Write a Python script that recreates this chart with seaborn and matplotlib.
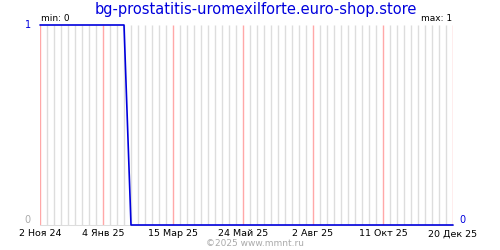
import matplotlib
matplotlib.use("Agg")
import matplotlib.pyplot as plt
import seaborn as sns
import pandas as pd
import numpy as np

sns.set_style("white")
plt.rcParams['font.family'] = ['DejaVu Sans']

title = "bg-prostatitis-uromexilforte.euro-shop.store"
dates = pd.date_range("2024-11-02", "2025-12-20", freq="7D")
values = [1] * 13 + [0] * (len(dates) - 13)
tick_dates = pd.to_datetime(["2024-11-02", "2025-01-04", "2025-03-15", "2025-05-24",
                             "2025-08-02", "2025-10-11", "2025-12-20"])
tick_labels = ["2 Ноя 24", "4 Янв 25", "15 Мар 25", "24 Май 25", "2 Авг 25", "11 Окт 25", "20 Дек 25"]

df = pd.DataFrame({"date": dates, "value": values})

fig = plt.figure(figsize=(5, 2.5), dpi=100)
ax = fig.add_axes([0.08, 0.1, 0.826, 0.8])

major_set = set(pd.Timestamp(t).normalize() for t in tick_dates)
minor_dates = [d for d in dates if pd.Timestamp(d).normalize() not in major_set]
ax.vlines(minor_dates, 0, 1, colors="#dddddd", linewidth=1.0, zorder=1)
ax.vlines(list(tick_dates), 0, 1, colors="#ffa8a8", linewidth=1.0, zorder=1.5)

sns.lineplot(data=df, x="date", y="value", ax=ax, color="#0000dd", linewidth=1.2, zorder=3,
             clip_on=False)

ax.set_xticks(tick_dates)
ax.set_xticklabels(tick_labels, fontsize=6.8, color="black")
ax.tick_params(which="both", length=0, pad=3)
ax.grid(False)

ax.set_xlim(dates[0], dates[-1])
ax.set_ylim(0, 1)
ax.set_yticks([])
ax.set_xlabel("")
ax.set_ylabel("")
for s in ["top", "left", "right"]:
    ax.spines[s].set_visible(False)
ax.spines["bottom"].set_color("#dddddd")
ax.spines["bottom"].set_linewidth(0.75)
ax.spines["bottom"].set_zorder(0.5)

ax.text(-0.022, 1.0, "1", transform=ax.transAxes, ha="right", va="center", color="#0000dd", fontsize=7)
ax.text(-0.022, 0.0, "0", transform=ax.transAxes, ha="right", va="bottom", color="#aaaaaa", fontsize=7)
ax.text(1.015, 0.0, "0", transform=ax.transAxes, ha="left", va="bottom", color="#0000dd", fontsize=7)
ax.text(0.003, 1.012, "min: 0", transform=ax.transAxes, ha="left", va="bottom", color="black", fontsize=6.5)
ax.text(0.997, 1.012, "max: 1", transform=ax.transAxes, ha="right", va="bottom", color="black", fontsize=6.5)

fig.text(0.512, 0.962, title, ha="center", va="center", color="#0000dd", fontsize=10.5)
fig.text(0.51, 0.028, "©2025 www.mmnt.ru", ha="center", va="center", color="#aaaaaa", fontsize=6.5)

fig.savefig("out.png", dpi=100)
